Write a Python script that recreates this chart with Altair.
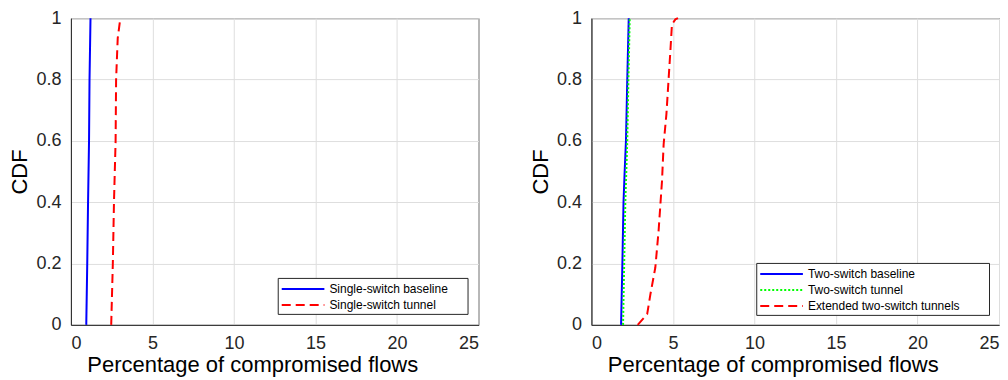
import altair as alt
import pandas as pd

# ---- data ----
ss_base_x = [0.94, 1.00, 1.05, 1.08, 1.11, 1.14, 1.20]
ss_base_y = [0.0, 0.2, 0.4, 0.5, 0.6, 0.8, 1.0]

ss_tun_x = [2.47, 2.57, 2.64, 2.74, 2.77, 2.87, 3.03]
ss_tun_y = [0.0, 0.2, 0.4, 0.6, 0.8, 0.935, 1.0]

ts_base_x = [1.82, 1.90, 1.97, 2.04, 2.12, 2.20, 2.29]
ts_base_y = [0.0, 0.2, 0.4, 0.5, 0.6, 0.8, 1.0]

ts_tun_x = [1.94, 2.01, 2.08, 2.14, 2.20, 2.27, 2.35]
ts_tun_y = [0.0, 0.2, 0.4, 0.5, 0.6, 0.8, 1.0]

ext_x = [2.84, 3.42, 3.62, 3.92, 4.12, 4.33, 4.43, 4.60, 4.74, 4.84, 4.94, 5.15, 5.31]
ext_y = [0.0, 0.035, 0.10, 0.187, 0.306, 0.469, 0.589, 0.687, 0.806, 0.89, 0.98, 0.996, 1.0]

left_names = ["Single-switch baseline", "Single-switch tunnel"]
right_names = ["Two-switch baseline", "Two-switch tunnel", "Extended two-switch tunnels"]

x_ticks = [0, 5, 10, 15, 20, 25]
y_ticks = [0, 0.2, 0.4, 0.6, 0.8, 1.0]

FONT = "Liberation Sans"


def frame(series):
    rows = []
    for name, xs, ys in series:
        for i, (x, y) in enumerate(zip(xs, ys)):
            rows.append({"series": name, "x": x, "y": y, "i": i})
    return pd.DataFrame(rows)


def panel(df, names, colors, dashes, extra_right, leg_offset):
    leg = alt.Legend(
        title="\u00a0",
        titleOrient="right",
        titleFontSize=1,
        titlePadding=extra_right,
        orient="bottom-right",
        offset=leg_offset,
        symbolType="M-1,0H5.1",
        symbolSize=196,
        symbolStrokeWidth=2,
        labelFont=FONT,
        labelFontSize=12,
        labelColor="#000000",
        labelOffset=32.7,
        strokeColor="#262626",
        fillColor="#ffffff",
        padding=3,
        rowPadding=2,
    )
    return (
        alt.Chart(df)
        .mark_line(strokeWidth=2)
        .encode(
            x=alt.X(
                "x:Q",
                scale=alt.Scale(domain=[0, 25], nice=False),
                axis=alt.Axis(values=x_ticks, format="d",
                              title="Percentage of compromised flows",
                              titleX=181.5, titleAlign="center"),
            ),
            y=alt.Y(
                "y:Q",
                scale=alt.Scale(domain=[0, 1], nice=False),
                axis=alt.Axis(values=y_ticks, format="~g", title="CDF"),
            ),
            color=alt.Color("series:N",
                            scale=alt.Scale(domain=names, range=colors),
                            legend=leg),
            strokeDash=alt.StrokeDash("series:N",
                                      scale=alt.Scale(domain=names, range=dashes),
                                      legend=leg),
            order="i:Q",
            detail="series:N",
        )
        .properties(width=408, height=307)
    )


left_df = frame([
    (left_names[0], ss_base_x, ss_base_y),
    (left_names[1], ss_tun_x, ss_tun_y),
])
right_df = frame([
    (right_names[0], ts_base_x, ts_base_y),
    (right_names[1], ts_tun_x, ts_tun_y),
    (right_names[2], ext_x, ext_y),
])

left = panel(left_df, left_names, ["#0000ff", "#ff0000"], [[1, 0], [9, 5]], 17, 11)
right = panel(right_df, right_names, ["#0000ff", "#00ff00", "#ff0000"],
              [[1, 0], [2, 2], [9, 5]], 26, 10)

chart = (
    alt.hconcat(left, right, spacing=49)
    .resolve_scale(color="independent", strokeDash="independent")
    .resolve_legend(color="independent", strokeDash="independent")
    .properties(padding={"left": 0, "top": 0, "right": 0, "bottom": 0})
    .configure_view(stroke="#262626", strokeWidth=1)
    .configure_axis(
        labelFont=FONT,
        labelFontSize=18,
        labelColor="#262626",
        titleFont=FONT,
        titleFontSize=22,
        titleFontWeight="normal",
        titleColor="#000000",
        gridColor="#dedede",
        gridWidth=1,
        domainColor="#262626",
        ticks=False,
        tickSize=0,
        labelPadding=10,
        titlePadding=4,
    )
    .configure_axisX(labelPadding=10, titlePadding=2)
)

chart.save("out.html", embed_options={"renderer": "svg", "actions": False})
